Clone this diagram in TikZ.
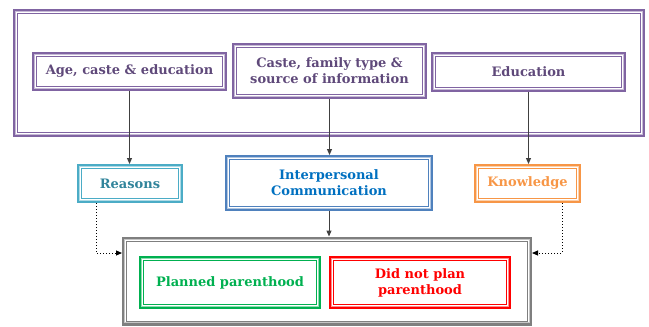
\documentclass[tikz,border=0pt]{standalone}
\usepackage{fontspec}
\setmainfont{DejaVu Serif}
\usetikzlibrary{arrows.meta}
\definecolor{purp}{HTML}{8064A2}
\definecolor{purptxt}{HTML}{5F497A}
\definecolor{aqua}{HTML}{4BACC6}
\definecolor{aquatxt}{HTML}{31849B}
\definecolor{bluebd}{HTML}{4F81BD}
\definecolor{bluetxt}{HTML}{0070C0}
\definecolor{orng}{HTML}{F79646}
\definecolor{grn}{HTML}{00B050}
\definecolor{rd}{HTML}{FF0000}
\definecolor{gry}{HTML}{7F7F7F}
\definecolor{conn}{HTML}{404040}
\tikzset{
  tbox/.style={draw=#1, line width=3pt, rectangle, inner sep=0pt, align=center,
    font=\bfseries\fontsize{13}{16}\selectfont},
  arr/.style={draw=conn, line width=1pt, -{Triangle[length=6pt,width=5pt]}},
  dotarr/.style={draw=black, line width=1pt, dotted, -{Triangle[length=6pt,width=5pt]}},
}
\newcommand{\inner}[2]{%
  \draw[#2!45, line width=0.8pt] ([shift={(2.8pt,-2.8pt)}]#1.north west) rectangle ([shift={(-2.8pt,2.8pt)}]#1.south east);
  \draw[#2, line width=0.8pt] ([shift={(4.4pt,-4.4pt)}]#1.north west) rectangle ([shift={(-4.4pt,4.4pt)}]#1.south east);
}
\begin{document}
\begin{tikzpicture}[x=1pt,y=-1pt]
\useasboundingbox (0,0) rectangle (649,327);
\node[tbox=purp, minimum width=629pt, minimum height=125pt] (outer) at (329,73) {};
\node[tbox=purp, text=purptxt, minimum width=192pt, minimum height=36pt] (age) at (129.5,71.5) {Age, caste \& education};
\node[tbox=purp, text=purptxt, minimum width=192pt, minimum height=53pt] (caste) at (329.5,71) {Caste, family type \&\\source of information};
\node[tbox=purp, text=purptxt, minimum width=192pt, minimum height=37pt] (edu) at (528.5,72) {Education};
\node[tbox=aqua, text=aquatxt, minimum width=103pt, minimum height=36pt] (reasons) at (130,183.5) {Reasons};
\node[tbox=bluebd, text=bluetxt, minimum width=205pt, minimum height=53pt] (ipc) at (329,183) {Interpersonal\\Communication};
\node[tbox=orng, text=orng, minimum width=104pt, minimum height=36pt] (know) at (527.5,183.5) {Knowledge};
\node[tbox=gry, minimum width=407pt, minimum height=86pt] (pp) at (327,281) {};
\node[tbox=grn, text=grn, minimum width=179pt, minimum height=50pt] (plan) at (230,282.5) {Planned parenthood};
\node[tbox=rd, text=rd, minimum width=179pt, minimum height=50pt] (noplan) at (420,282.5) {Did not plan\\parenthood};
\inner{outer}{purp}
\inner{age}{purp}
\inner{caste}{purp}
\inner{edu}{purp}
\inner{reasons}{aqua}
\inner{ipc}{bluebd}
\inner{know}{orng}
\inner{pp}{gry}
\inner{plan}{grn}
\inner{noplan}{rd}
\draw[arr] (age.south) -- (age.south |- reasons.north);
\draw[arr] (caste.south) -- (caste.south |- ipc.north);
\draw[arr] (edu.south) -- (edu.south |- know.north);
\draw[arr] (ipc.south) -- (ipc.south |- pp.north);
\coordinate (rb) at ([xshift=19pt]reasons.south west);
\coordinate (kb) at ([xshift=-19pt]know.south east);
\draw[dotarr] (rb) |- (pp.west |- 0,253);
\draw[dotarr] (kb) |- (pp.east |- 0,253);
\end{tikzpicture}
\end{document}
